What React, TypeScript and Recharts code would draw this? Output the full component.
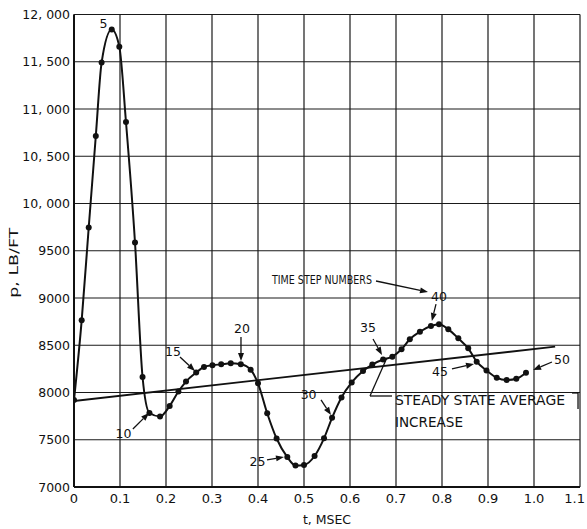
import React from 'react';
import { LineChart, Line, XAxis, YAxis, CartesianGrid, ReferenceLine, ReferenceDot } from 'recharts';

// time (msec) of each time step 0..50
const timeMs = [
  0, 0.0167, 0.032, 0.0474, 0.06, 0.082, 0.0985, 0.113, 0.1326, 0.149,
  0.164, 0.187, 0.208, 0.227, 0.2435, 0.2656, 0.2826, 0.301, 0.32, 0.3407,
  0.3626, 0.384, 0.4, 0.42, 0.4404, 0.4637, 0.4815, 0.5, 0.523, 0.5435,
  0.561, 0.5815, 0.6037, 0.6283, 0.6485, 0.672, 0.692, 0.712, 0.73, 0.752,
  0.776, 0.7935, 0.8137, 0.8355, 0.857, 0.8754, 0.8967, 0.919, 0.9406, 0.9615,
  0.9826,
];
// pressure p (lb/ft) at each step
const pressure = [
  7920, 8764, 9746, 10714, 11491, 11840, 11660, 10862, 9587, 8164,
  7783, 7746, 7857, 8010, 8116, 8211, 8270, 8288, 8298, 8309,
  8298, 8241, 8097, 7780, 7513, 7317, 7227, 7233, 7328, 7515,
  7732, 7947, 8106, 8227, 8296, 8349, 8379, 8457, 8563, 8643,
  8703, 8721, 8668, 8573, 8467, 8326, 8233, 8156, 8132, 8146,
  8209,
];

// steady state average increase line
const steadyT = [0, 1.046];
const steadyP = [7910, 8485];

const xTicks = [0, 0.1, 0.2, 0.3, 0.4, 0.5, 0.6, 0.7, 0.8, 0.9, 1.0, 1.1];
const xTickLabels = ['0', '0.1', '0.2', '0.3', '0.4', '0.5', '0.6', '0.7', '0.8', '0.9', '1.0', '1.1'];
const yTicks = [7000, 7500, 8000, 8500, 9000, 9500, 10000, 10500, 11000, 11500, 12000];
const yTickLabels = ['7000', '7500', '8000', '8500', '9000', '9500', '10, 000', '10, 500', '11, 000', '11, 500', '12, 000'];

// time-step number labels (data coordinates of label centres)
const stepLabels = ['5', '10', '15', '20', '25', '30', '35', '40', '45', '50'];
const stepLabelT = [0.064, 0.1076, 0.215, 0.365, 0.399, 0.51, 0.639, 0.7935, 0.7957, 1.061];
const stepLabelP = [11910, 7561, 8434, 8672, 7265, 7974, 8693, 9021, 8222, 8344];

// arrows (from -> to), data coordinates
const arrowFromT = [0.128, 0.2304, 0.363, 0.4196, 0.537, 0.65, 0.787, 0.8217, 1.039, 0.6565];
const arrowFromP = [7614, 8376, 8587, 7286, 7921, 8566, 8936, 8249, 8323, 9180];
const arrowToT = [0.163, 0.263, 0.363, 0.4565, 0.5587, 0.6696, 0.778, 0.8696, 0.998, 0.7696];
const arrowToP = [7783, 8228, 8333, 7317, 7762, 8397, 8757, 8302, 8238, 9063];

// plain leader lines
const leaderFromT = [0.6435, 0.6435, 1.0826, 1.0957];
const leaderFromP = [7963, 7963, 7995, 7995];
const leaderToT = [0.6913, 0.68, 1.0957, 1.0957];
const leaderToP = [7963, 8365, 7995, 7825];

const notes = ['TIME STEP NUMBERS', 'STEADY STATE AVERAGE', 'INCREASE'];
const noteT = [0.4304, 0.6978, 0.6978];
const noteP = [9143, 7868, 7630];

const INK = '#111';
const FONT = '"DejaVu Sans", sans-serif';

const data = timeMs.map((t, i) => ({ t, p: pressure[i] }));
const steadyData = steadyT.map((t, i) => ({ t, p: steadyP[i] }));

const arrowShape = (props: any) => {
  const { x1, y1, x2, y2 } = props;
  const dx = x2 - x1;
  const dy = y2 - y1;
  const len = Math.sqrt(dx * dx + dy * dy) || 1;
  const ux = dx / len;
  const uy = dy / len;
  const hl = 8;
  const hw = 3;
  const bx = x2 - ux * hl;
  const by = y2 - uy * hl;
  return (
    <g>
      <line x1={x1} y1={y1} x2={bx} y2={by} stroke={INK} strokeWidth={1.3} />
      <polygon
        points={`${x2},${y2} ${bx - uy * hw},${by + ux * hw} ${bx + uy * hw},${by - ux * hw}`}
        fill={INK}
      />
    </g>
  );
};

const plainShape = (props: any) => {
  const { x1, y1, x2, y2 } = props;
  return <line x1={x1} y1={y1} x2={x2} y2={y2} stroke={INK} strokeWidth={1.3} />;
};

const XTick = (props: any) => {
  const { x, y, payload } = props;
  const idx = xTicks.indexOf(payload.value);
  const last = idx === xTicks.length - 1;
  return (
    <text
      x={last ? x + 5 : x}
      y={y + 16}
      textAnchor={last ? 'end' : 'middle'}
      fontFamily={FONT}
      fontSize={13}
      fill={INK}
    >
      {idx >= 0 ? xTickLabels[idx] : ''}
    </text>
  );
};

const YTick = (props: any) => {
  const { x, y, payload } = props;
  const idx = yTicks.indexOf(payload.value);
  return (
    <text x={x - 4} y={y + 4.5} textAnchor="end" fontFamily={FONT} fontSize={12.5} fill={INK}>
      {idx >= 0 ? yTickLabels[idx] : ''}
    </text>
  );
};

export default function App() {
  return (
    <div style={{ position: 'absolute', left: 0, top: 0, width: 587, height: 529, background: '#fff' }}>
      <LineChart width={587} height={529} data={data} margin={{ top: 14.5, right: 7, bottom: 0, left: 0 }}>
        <CartesianGrid stroke="#1a1a1a" strokeWidth={1.2} />
        <XAxis
          dataKey="t"
          type="number"
          domain={[0, 1.1]}
          ticks={xTicks}
          interval={0}
          height={42}
          tickLine={false}
          tickSize={0}
          tickMargin={0}
          axisLine={{ stroke: INK, strokeWidth: 2 }}
          tick={<XTick />}
          allowDataOverflow
          label={{
            content: (p: any) => {
              const vb = p.viewBox || { x: 74, y: 487, width: 506, height: 42 };
              return (
                <text x={vb.x + vb.width / 2} y={vb.y + 37} textAnchor="middle" fontFamily={FONT} fontSize={12.5} fill={INK}>
                  t, MSEC
                </text>
              );
            },
          }}
        />
        <YAxis
          type="number"
          domain={[7000, 12000]}
          ticks={yTicks}
          interval={0}
          width={74}
          tickLine={false}
          tickSize={0}
          tickMargin={0}
          axisLine={{ stroke: INK, strokeWidth: 2 }}
          tick={<YTick />}
          allowDataOverflow
          label={{
            content: (p: any) => {
              const vb = p.viewBox || { x: 0, y: 14.5, width: 74, height: 472.5 };
              const cx = vb.x + 13;
              const cy = vb.y + vb.height / 2 + 12;
              return (
                <text
                  x={cx}
                  y={cy}
                  transform={`rotate(-90, ${cx}, ${cy})`}
                  textAnchor="middle"
                  dominantBaseline="central"
                  fontFamily={FONT}
                  fontSize={13}
                  textLength={70}
                  lengthAdjust="spacingAndGlyphs"
                  fill={INK}
                >
                  p, LB/FT
                </text>
              );
            },
          }}
        />
        <Line
          data={steadyData}
          dataKey="p"
          type="linear"
          stroke={INK}
          strokeWidth={1.8}
          dot={false}
          activeDot={false}
          isAnimationActive={false}
        />
        <Line
          dataKey="p"
          type="monotone"
          stroke={INK}
          strokeWidth={2}
          dot={{ r: 3, fill: INK, stroke: INK, strokeWidth: 0 }}
          activeDot={false}
          isAnimationActive={false}
        />
        {arrowFromT.map((t, i) => (
          <ReferenceLine
            key={`a${i}`}
            segment={[
              { x: t, y: arrowFromP[i] },
              { x: arrowToT[i], y: arrowToP[i] },
            ]}
            ifOverflow="visible"
            shape={arrowShape}
          />
        ))}
        {leaderFromT.map((t, i) => (
          <ReferenceLine
            key={`l${i}`}
            segment={[
              { x: t, y: leaderFromP[i] },
              { x: leaderToT[i], y: leaderToP[i] },
            ]}
            ifOverflow="visible"
            shape={plainShape}
          />
        ))}
        {stepLabels.map((s, i) => (
          <ReferenceDot
            key={`s${i}`}
            x={stepLabelT[i]}
            y={stepLabelP[i]}
            r={0}
            ifOverflow="visible"
            shape={(p: any) => (
              <text
                x={p.cx}
                y={p.cy}
                textAnchor="middle"
                dominantBaseline="central"
                fontFamily={FONT}
                fontSize={12.5}
                fill={INK}
              >
                {s}
              </text>
            )}
          />
        ))}
        {notes.map((s, i) => (
          <ReferenceDot
            key={`n${i}`}
            x={noteT[i]}
            y={noteP[i]}
            r={0}
            ifOverflow="visible"
            shape={(p: any) => (
              <text
                x={p.cx}
                y={p.cy}
                textAnchor="start"
                fontFamily={FONT}
                fontSize={i === 0 ? 12 : 13.5}
                textLength={i === 0 ? 100 : i === 1 ? 170 : 68}
                lengthAdjust="spacingAndGlyphs"
                fill={INK}
              >
                {s}
              </text>
            )}
          />
        ))}
      </LineChart>
    </div>
  );
}
